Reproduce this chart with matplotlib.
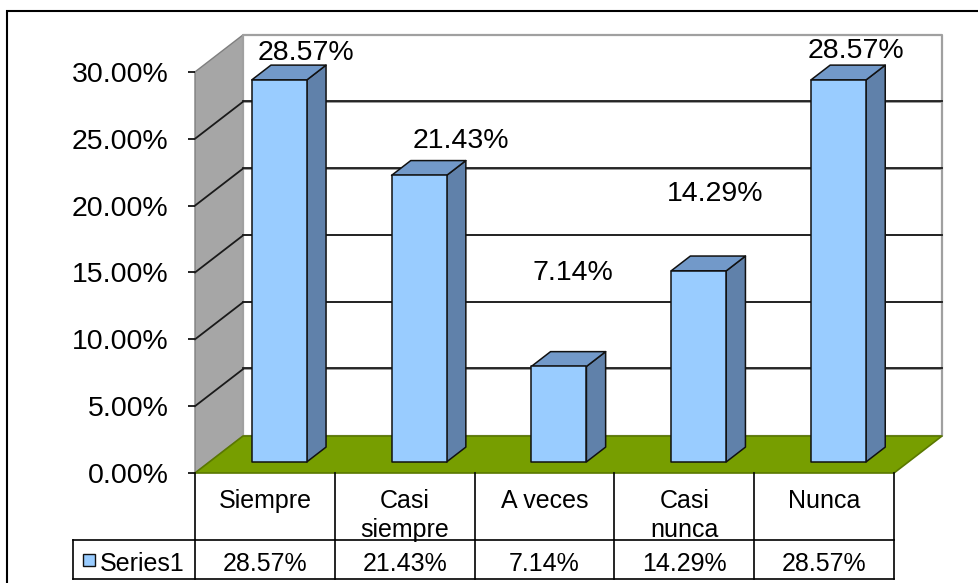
import numpy as np
import matplotlib
matplotlib.use("Agg")
import matplotlib.pyplot as plt
from matplotlib.patches import Polygon, Rectangle

"""data read off the chart"""
categories = ["Siempre", "Casi\nsiempre", "A veces", "Casi\nnunca", "Nunca"]
values = [28.57, 21.43, 7.14, 14.29, 28.57]
series_name = "Series1"
yticks = [0, 5, 10, 15, 20, 25, 30]

"""layout (pixel scale of the reference)"""
W, H = 979, 583
X0, Y0 = 195, 473          # front-left corner of the floor
PXC = 139.8                # px per category
PXV = 13.37                # px per percent
DX = 48 / PXC              # full depth offset in category units
DY = 37 / PXV              # full depth offset in percent units
BAR_W = 0.197
D0, D1 = 0.30, 0.70
# manual label offsets like the Excel file has
label_off = [(0.29, 2.85), (0.40, 3.37), (0.20, 7.82), (0.22, 6.61), (0.23, 3.03)]

plt.rcParams['font.family'] = ['Liberation Sans', 'DejaVu Sans']

fig = plt.figure(figsize=(W / 100, H / 100), dpi=100)
n = len(values)
ax = fig.add_axes([X0 / W, (H - Y0) / H, n * PXC / W, 30 * PXV / H])
ax.set_xlim(0, n)
ax.set_ylim(0, 30)
for s in ax.spines.values():
    s.set_visible(False)
ax.patch.set_visible(False)


def P(x, v, d):
    return (x + d * DX, v + d * DY)


def ypx(dpx):
    """pixels below the floor front edge -> percent units"""
    return -dpx / PXV


def xpx(dpx):
    return dpx / PXC


def poly(pts, fc, ec, lw=1.0, z=1):
    ax.add_patch(Polygon(pts, closed=True, facecolor=fc, edgecolor=ec,
                         linewidth=lw, zorder=z, clip_on=False, joinstyle='round'))


top = yticks[-1]
# walls and floor
poly([P(0, 0, 0), P(0, top, 0), P(0, top, 1), P(0, 0, 1)], '#A6A6A6', '#7F7F7F', 1.0, 1)
poly([P(0, 0, 1), P(n, 0, 1), P(n, top, 1), P(0, top, 1)], 'white', '#A0A0A0', 1.6, 1)
for t in yticks[1:-1]:
    ax.plot([P(0, t, 1)[0], P(n, t, 1)[0]], [P(0, t, 1)[1]] * 2, color='#999999',
            lw=1.4, zorder=2, clip_on=False, transform=ax.transData)
    ax.plot([P(0, t, 1)[0], P(n, t, 1)[0]], [P(0, t, 1)[1] + 0.05] * 2, color='#1A1A1A',
            lw=1.3, zorder=2, clip_on=False)
    ax.plot([P(0, t, 0)[0], P(0, t, 1)[0]], [P(0, t, 0)[1], P(0, t, 1)[1]],
            color='#1A1A1A', lw=1.3, zorder=2, clip_on=False)
poly([P(0, 0, 0), P(n, 0, 0), P(n, 0, 1), P(0, 0, 1)], '#779E00', '#5A7800', 1.2, 3)

# bars
for i, v in enumerate(values):
    c = i + 0.5
    l, r = c - BAR_W, c + BAR_W
    poly([P(r, 0, D0), P(r, 0, D1), P(r, v, D1), P(r, v, D0)], '#6081AA', '#111111', 1.1, 4)
    poly([P(l, v, D0), P(r, v, D0), P(r, v, D1), P(l, v, D1)], '#7299C9', '#111111', 1.1, 4)
    poly([P(l, 0, D0), P(r, 0, D0), P(r, v, D0), P(l, v, D0)], '#99CCFF', '#111111', 1.1, 5)
    ox, oy = label_off[i]
    ax.text(c + ox, v + oy, "%.2f%%" % v, ha='center', va='center',
            fontsize=20.5, zorder=6, clip_on=False)

# y axis ticks
ax.set_xticks([])
ax.set_yticks(yticks)
ax.set_yticklabels(["%.2f%%" % t for t in yticks])
ax.tick_params(axis='y', length=5, width=1.2, pad=14, labelsize=20.5, color='black')

# data table
lw_t = 1.2
for i in range(n + 1):
    ax.plot([i, i], [ypx(0), ypx(66)], color='black', lw=lw_t, clip_on=False, zorder=3)
xl = xpx(-122)
ax.plot([xl, n], [ypx(67), ypx(67)], color='black', lw=lw_t, clip_on=False)
ax.plot([xl, n], [ypx(106), ypx(106)], color='black', lw=lw_t, clip_on=False)
for xx in [xl] + list(range(n + 1)):
    ax.plot([xx, xx], [ypx(67), ypx(106)], color='black', lw=lw_t, clip_on=False)

for i, cat in enumerate(categories):
    for k, line in enumerate(cat.split("\n")):
        ax.text(i + 0.5, ypx(35 + 29 * k), line, ha='center', va='baseline',
                fontsize=18, clip_on=False)
    ax.text(i + 0.5, ypx(98), "%.2f%%" % values[i], ha='center', va='baseline',
            fontsize=18, clip_on=False)

ax.add_patch(Rectangle((xpx(-112), ypx(93)), xpx(12), 12 / PXV, facecolor='#99CCFF',
                       edgecolor='#111111', lw=1.0, clip_on=False))
ax.text(xpx(-95), ypx(98), series_name, ha='left', va='baseline', fontsize=18, clip_on=False)

# outer chart border (runs off the right and bottom edges)
fig.add_artist(Rectangle((7 / W, -0.1), 1.2, 1.1 - 11 / H, transform=fig.transFigure,
                         fill=False, edgecolor='black', lw=1.5))

fig.savefig("out.png", dpi=100)
